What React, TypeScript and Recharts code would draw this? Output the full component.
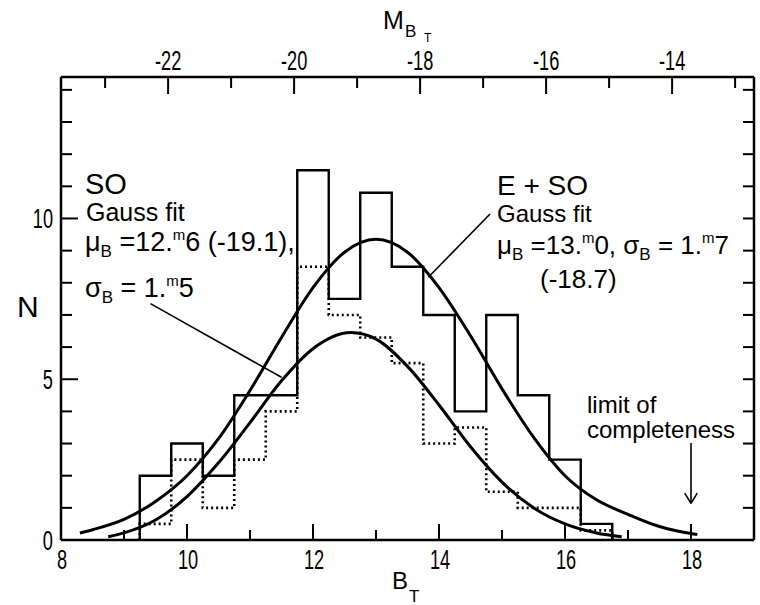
import { ComposedChart, Line, XAxis, YAxis, ReferenceLine } from "recharts";

// magnitude bins (lower edges), width 0.5 mag
const binStarts = [9.25, 9.75, 10.25, 10.75, 11.25, 11.75, 12.25, 12.75, 13.25, 13.75, 14.25, 14.75, 15.25, 15.75, 16.25];
const binWidth = 0.5;
const eSoCounts = [2, 3, 2, 4.5, 4.5, 11.5, 7.5, 10.8, 8.5, 7, 4, 7, 4.5, 2.5, 0.5];
const soCounts = [0.5, 2.5, 1, 2.5, 4, 8.5, 7, 6.3, 5.5, 3, 3.5, 1.5, 1, 1, 0.3];

// gauss fits
const eSoFitB = [8.3, 8.5, 9, 9.5, 10, 10.5, 11, 11.5, 12, 12.5, 13, 13.5, 14, 14.5, 15, 15.5, 16, 16.5, 17, 17.5, 18, 18.1];
const eSoFitN = [0.22, 0.32, 0.64, 1.2, 2.0, 3.15, 4.65, 6.3, 7.85, 8.95, 9.35, 8.95, 7.85, 6.35, 4.7, 3.2, 2.0, 1.25, 0.8, 0.42, 0.2, 0.17];
const soFitB = [8.75, 9, 9.5, 10, 10.5, 11, 11.5, 12, 12.6, 13, 13.5, 14, 14.5, 15, 15.5, 16, 16.5, 16.9];
const soFitN = [0.1, 0.22, 0.62, 1.35, 2.4, 3.65, 4.95, 5.95, 6.45, 6.25, 5.4, 4.2, 2.9, 1.8, 1.0, 0.5, 0.22, 0.1];

// axes
const bTicks = [8, 9, 10, 11, 12, 13, 14, 15, 16, 17, 18, 19];
const mTicks = [-23, -22, -21, -20, -19, -18, -17, -16, -15, -14, -13];
const nTicks = [0, 1, 2, 3, 4, 5, 6, 7, 8, 9, 10, 11, 12, 13, 14];
const DM = 31.7; // M = B - DM

// annotation lines (data coords)
const soLeader = [{ x: 9.42, y: 7.35 }, { x: 11.5, y: 5.06 }];
const eSoLeader = [{ x: 14.81, y: 10.14 }, { x: 13.83, y: 8.17 }];
const limitB = 18;

const FONT = "'Liberation Sans', Arial, sans-serif";

const steps = (counts: number[]) => [
  { b: binStarts[0], n: 0 },
  ...binStarts.map((b, i) => ({ b, n: counts[i] })),
  { b: binStarts[binStarts.length - 1] + binWidth, n: 0 },
];
const eSoHist = steps(eSoCounts);
const soHist = steps(soCounts);
const eSoFit = eSoFitB.map((b, i) => ({ b, n: eSoFitN[i] }));
const soFit = soFitB.map((b, i) => ({ b, n: soFitN[i] }));

function Num({ x, y, anchor, children }: any) {
  return (
    <text transform={`translate(${x},${y}) scale(0.65,1)`} textAnchor={anchor} fontSize={28} fontFamily={FONT} fill="#000">
      {children}
    </text>
  );
}

function BottomTick({ x, y, payload }: any) {
  const v = payload.value;
  const major = v % 2 === 0;
  return (
    <g>
      <line x1={x} x2={x} y1={y} y2={y - (major ? 16 : 10)} stroke="#000" strokeWidth={2} />
      {major && <Num x={x + 1} y={y + 29} anchor="middle">{v}</Num>}
    </g>
  );
}

function TopTick({ x, y, payload }: any) {
  const m = Math.round(payload.value - DM);
  const major = Math.abs(m) % 2 === 0;
  return (
    <g>
      <line x1={x} x2={x} y1={y} y2={y + (major ? 17 : 11)} stroke="#000" strokeWidth={2} />
      {major && <Num x={x} y={y - 7} anchor="middle">{`-${Math.abs(m)}`}</Num>}
    </g>
  );
}

function LeftTick({ x, y, payload }: any) {
  const v = payload.value;
  const major = v % 5 === 0;
  return (
    <g>
      <line x1={x} x2={x + (major ? 17 : 11)} y1={y} y2={y} stroke="#000" strokeWidth={2} />
      {major && <Num x={x - 8} y={y + 10} anchor="end">{v}</Num>}
    </g>
  );
}

function RightTick({ x, y, payload }: any) {
  if (payload.value === 0) return <g />;
  return <line x1={x} x2={x - 11} y1={y} y2={y} stroke="#000" strokeWidth={2} />;
}

export default function App() {
  return (
    <div style={{ position: "absolute", left: 0, top: 0, width: 760, height: 605, background: "#fff" }}>
      <ComposedChart width={760} height={605} margin={{ top: 47, right: 0, bottom: 35, left: 21 }}>
        <XAxis
          xAxisId="b"
          dataKey="b"
          type="number"
          domain={[8, 19]}
          ticks={bTicks}
          interval={0}
          allowDataOverflow
          height={30}
          tickSize={0}
          tickMargin={0}
          tick={<BottomTick />}
          axisLine={{ stroke: "#000", strokeWidth: 2.5 }}
          tickLine={false}
        />
        <XAxis
          xAxisId="t"
          dataKey="b"
          orientation="top"
          type="number"
          domain={[8, 19]}
          ticks={mTicks.map((m) => +(m + DM).toFixed(2))}
          interval={0}
          allowDataOverflow
          height={30}
          tickSize={0}
          tickMargin={0}
          tick={<TopTick />}
          axisLine={{ stroke: "#000", strokeWidth: 2.5 }}
          tickLine={false}
        />
        <YAxis
          yAxisId="l"
          type="number"
          domain={[0, 14.4]}
          ticks={nTicks}
          interval={0}
          allowDataOverflow
          width={40}
          tickSize={0}
          tickMargin={0}
          tick={<LeftTick />}
          axisLine={{ stroke: "#000", strokeWidth: 2.5 }}
          tickLine={false}
        />
        <YAxis
          yAxisId="r"
          orientation="right"
          type="number"
          domain={[0, 14.4]}
          ticks={nTicks}
          interval={0}
          allowDataOverflow
          width={6}
          tickSize={0}
          tickMargin={0}
          tick={<RightTick />}
          axisLine={{ stroke: "#000", strokeWidth: 2.5 }}
          tickLine={false}
        />
        {/* carrier for the top (absolute magnitude) axis */}
        <Line xAxisId="t" yAxisId="r" data={eSoFit} dataKey="n" stroke="none" dot={false} activeDot={false} isAnimationActive={false} />
        <Line xAxisId="b" yAxisId="l" data={soHist} dataKey="n" type="stepAfter" stroke="#000" strokeWidth={2.6} strokeDasharray="2 3" dot={false} isAnimationActive={false} />
        <Line xAxisId="b" yAxisId="l" data={eSoHist} dataKey="n" type="stepAfter" stroke="#000" strokeWidth={2.4} dot={false} isAnimationActive={false} />
        <Line xAxisId="b" yAxisId="l" data={eSoFit} dataKey="n" type="monotone" stroke="#000" strokeWidth={3} dot={false} isAnimationActive={false} />
        <Line xAxisId="b" yAxisId="l" data={soFit} dataKey="n" type="monotone" stroke="#000" strokeWidth={3} dot={false} isAnimationActive={false} />
        <ReferenceLine xAxisId="b" yAxisId="l" segment={soLeader} stroke="#000" strokeWidth={1.6} ifOverflow="visible" />
        <ReferenceLine xAxisId="b" yAxisId="l" segment={eSoLeader} stroke="#000" strokeWidth={1.6} ifOverflow="visible" />
        <ReferenceLine xAxisId="b" yAxisId="l" segment={[{ x: limitB, y: 3.02 }, { x: limitB, y: 1.14 }]} stroke="#000" strokeWidth={1.6} ifOverflow="visible" />
        <ReferenceLine xAxisId="b" yAxisId="l" segment={[{ x: limitB - 0.1, y: 1.46 }, { x: limitB, y: 1.14 }]} stroke="#000" strokeWidth={1.6} ifOverflow="visible" />
        <ReferenceLine xAxisId="b" yAxisId="l" segment={[{ x: limitB + 0.1, y: 1.46 }, { x: limitB, y: 1.14 }]} stroke="#000" strokeWidth={1.6} ifOverflow="visible" />
      </ComposedChart>
      <svg width={760} height={605} style={{ position: "absolute", left: 0, top: 0, pointerEvents: "none" }} fontFamily={FONT} fill="#000">
        {/* axis titles */}
        <text x={383} y={29} fontSize={25}>M</text>
        <text x={405} y={37} fontSize={17}>B</text>
        <text x={424} y={42} fontSize={12}>T</text>
        <text x={392} y={589} fontSize={24}>B</text>
        <text x={409} y={602} fontSize={17}>T</text>
        <text x={17} y={317} fontSize={30}>N</text>

        {/* SO block */}
        <text x={85} y={194} fontSize={29}>SO</text>
        <text x={86} y={221} fontSize={25}>Gauss fit</text>
        <text x={85} y={251} fontSize={27}>
          μ<tspan fontSize={17} dy={6}>B</tspan>
          <tspan dy={-6}> =12.</tspan>
          <tspan fontSize={15} dy={-11} dx={0}>m</tspan>
          <tspan dy={11}>6 (-19.1),</tspan>
        </text>
        <text x={85} y={297} fontSize={27}>
          σ<tspan fontSize={17} dy={6}>B</tspan>
          <tspan dy={-6}> = 1.</tspan>
          <tspan fontSize={15} dy={-11} dx={0}>m</tspan>
          <tspan dy={11}>5</tspan>
        </text>

        {/* E+SO block */}
        <text x={497} y={195} fontSize={28}>E + SO</text>
        <text x={497} y={222} fontSize={24}>Gauss fit</text>
        <text x={497} y={254} fontSize={26}>
          μ<tspan fontSize={17} dy={6}>B</tspan>
          <tspan dy={-6}> =13.</tspan>
          <tspan fontSize={15} dy={-11} dx={0}>m</tspan>
          <tspan dy={11}>0, σ</tspan>
          <tspan fontSize={17} dy={6}>B</tspan>
          <tspan dy={-6}> = 1.</tspan>
          <tspan fontSize={15} dy={-11} dx={0}>m</tspan>
          <tspan dy={11}>7</tspan>
        </text>
        <text x={540} y={288} fontSize={26}>(-18.7)</text>

        <text x={587} y={413} fontSize={24}>limit of</text>
        <text x={587} y={438} fontSize={24}>completeness</text>
      </svg>
    </div>
  );
}
